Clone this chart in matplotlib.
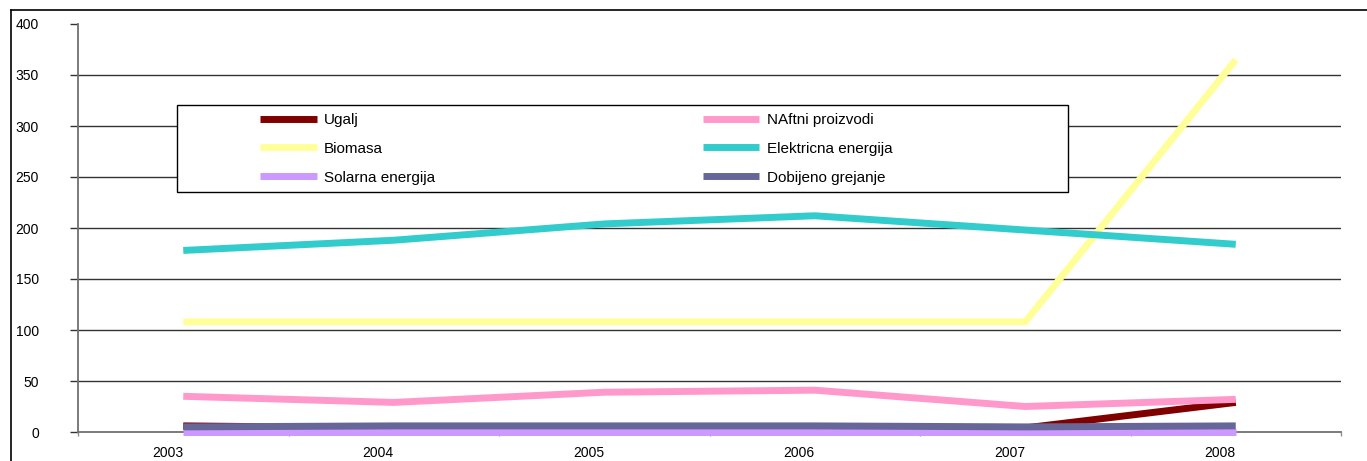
import numpy as np
import matplotlib
matplotlib.use("Agg")
import matplotlib.pyplot as plt
from matplotlib.lines import Line2D
from matplotlib.patches import Rectangle

plt.rcParams['font.family'] = ['Liberation Sans', 'DejaVu Sans']

years = ['2003', '2004', '2005', '2006', '2007', '2008']

ugalj = [6, 4, 4, 4, 4, 29]
naftni = [35, 29, 39, 41, 25, 32]
biomasa = [108, 108, 108, 108, 108, 365]
elektricna = [178, 188, 204, 212, 198, 184]
solarna = [0, 0, 0, 0, 0, 0]
dobijeno = [5, 6, 6, 6, 5, 6]

series = [
    ("Ugalj", ugalj, '#800000'),
    ("NAftni proizvodi", naftni, '#FF99CC'),
    ("Biomasa", biomasa, '#FFFF99'),
    ("Elektricna energija", elektricna, '#33CCCC'),
    ("Solarna energija", solarna, '#CC99FF'),
    ("Dobijeno grejanje", dobijeno, '#666699'),
]

W, H = 1367, 461
fig = plt.figure(figsize=(W / 100, H / 100), dpi=100)
ax = fig.add_axes([78 / W, 1 - 432 / H, (1341 - 78) / W, (432 - 24) / H])

x = np.arange(len(years))
handles = {}
for name, vals, color in series:
    h, = ax.plot(x, vals, color=color, lw=5, solid_capstyle='butt',
                 solid_joinstyle='miter', label=name, zorder=3, clip_on=False)
    handles[name] = h

ax.set_xlim(-0.5, len(years) - 0.5)
ax.set_ylim(0, 400)
ax.set_yticks(np.arange(0, 401, 50))
ax.set_xticks(x)
ax.set_xticklabels(years, ha='right')
ax.set_xticks(np.arange(-0.5, len(years), 1), minor=True)

for y in np.arange(50, 400, 50):
    ax.axhline(y, color='#333333', lw=1, zorder=1)

for s in ['top', 'right']:
    ax.spines[s].set_visible(False)
for s in ['left', 'bottom']:
    ax.spines[s].set_color('#707070')
    ax.spines[s].set_linewidth(1.3)

ax.tick_params(axis='y', direction='out', length=6, width=1, color='#333333',
               labelsize=10, pad=22)
ax.tick_params(axis='x', which='major', length=0, labelsize=10, pad=10)
ax.tick_params(axis='x', which='minor', direction='out', length=3, width=1,
               color='#909090')

# legend box drawn separately, entries placed row-wise in two columns
box = Rectangle((177 / W, 1 - 192 / H), (1068 - 177) / W, (192 - 105) / H,
                transform=fig.transFigure, facecolor='white', edgecolor='black',
                lw=1.0, zorder=4)
fig.add_artist(box)

order = ["Ugalj", "Biomasa", "Solarna energija",
         "NAftni proizvodi", "Elektricna energija", "Dobijeno grejanje"]
leg = fig.legend([handles[n] for n in order], order, ncol=2,
                 loc='upper left', bbox_to_anchor=(260 / W, 1 - 113 / H),
                 bbox_transform=fig.transFigure,
                 fontsize=11, frameon=False, borderpad=0,
                 handlelength=3.7, handletextpad=0.5, labelspacing=0.97,
                 borderaxespad=0, columnspacing=17.5)
leg.set_zorder(5)

# chart-area border (cropped at right and bottom)
fig.add_artist(Line2D([10.5 / W, 10.5 / W], [0, 1 - 10.5 / H], color='#000000', lw=1.2))
fig.add_artist(Line2D([10.5 / W, 1], [1 - 10.5 / H, 1 - 10.5 / H], color='#000000', lw=1.2))

fig.savefig("out.png", dpi=100)
